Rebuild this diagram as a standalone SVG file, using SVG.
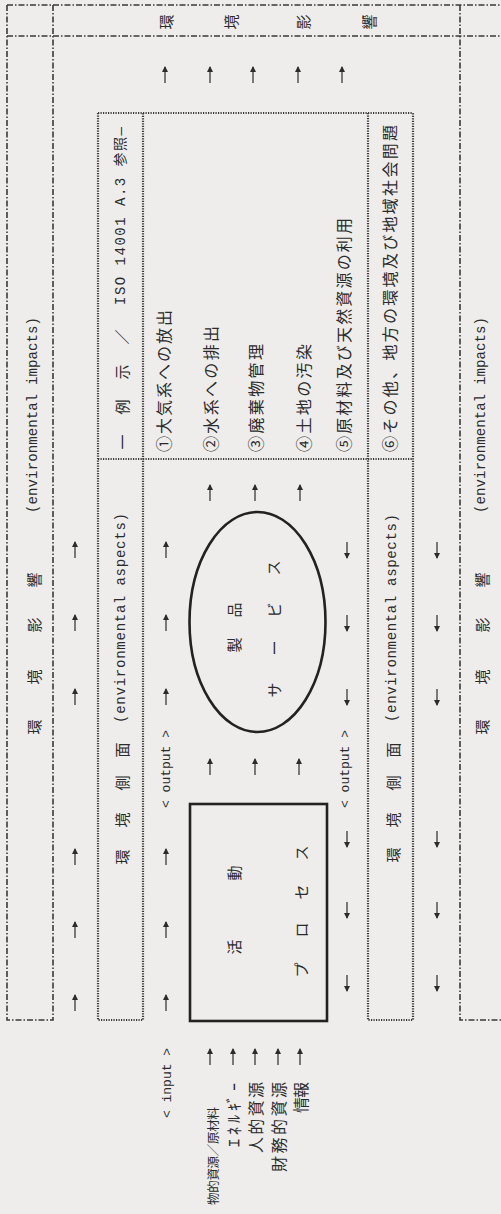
<svg xmlns="http://www.w3.org/2000/svg" width="501" height="1214" viewBox="0 0 501 1214">
<defs>
<marker id="ah" markerWidth="6" markerHeight="6" refX="5" refY="3" orient="auto" markerUnits="userSpaceOnUse">
<path d="M0,0 L6,3 L0,6 z" fill="#2b2b2b"/>
</marker>
<style>
.outer{fill:none;stroke:#3a3a3a;stroke-width:1.6;stroke-dasharray:6 2 1.5 2}
.inner{fill:none;stroke:#3a3a3a;stroke-width:2.2;stroke-dasharray:1.2 1.3}
.solid{fill:none;stroke:#222;stroke-width:2.6}
.arr{stroke:#2b2b2b;stroke-width:1.2;marker-end:url(#ah)}
text{fill:#2b2b2b;dominant-baseline:central;text-anchor:middle}
.j{font-family:"Noto Sans CJK JP",sans-serif;font-size:15px}
.l{font-family:"Noto Sans CJK JP",sans-serif;font-size:16px}
g.l text{text-anchor:start}
.m{font-family:"Liberation Mono","Noto Sans CJK JP",monospace;font-size:14px}
</style>
</defs>
<rect width="501" height="1214" fill="#eeedeb"/>

<g id="outer-frame">
<line class="outer" x1="7" y1="5" x2="501" y2="5"/>
<line class="outer" x1="7" y1="36" x2="501" y2="36"/>
<path class="outer" d="M7,5 V1020 H53 V5"/>
<path class="outer" d="M460,5 V1020 H501"/>
<g class="j">
<text transform="translate(165 22) rotate(-90)">環</text>
<text transform="translate(230 22) rotate(-90)">境</text>
<text transform="translate(302 22) rotate(-90)">影</text>
<text transform="translate(368 22) rotate(-90)">響</text>
<text transform="translate(33 727) rotate(-90)">環</text>
<text transform="translate(33 677) rotate(-90)">境</text>
<text transform="translate(33 625) rotate(-90)">影</text>
<text transform="translate(33 580) rotate(-90)">響</text>
<text transform="translate(481 727) rotate(-90)">環</text>
<text transform="translate(481 677) rotate(-90)">境</text>
<text transform="translate(481 625) rotate(-90)">影</text>
<text transform="translate(481 580) rotate(-90)">響</text>
</g>
<text class="m" transform="translate(33 415) rotate(-90)" textLength="196">(environmental impacts)</text>
<text class="m" transform="translate(481 415) rotate(-90)" textLength="196">(environmental impacts)</text>
</g>

<g id="inner-frame">
<path class="inner" d="M98,113 H413"/>
<path class="inner" d="M98,459 H413"/>
<path class="inner" d="M98,113 V1020 H143 V113"/>
<path class="inner" d="M368,113 V1020 H413 V113"/>
<g class="j">
<text transform="translate(121 857) rotate(-90)">環</text>
<text transform="translate(121 820) rotate(-90)">境</text>
<text transform="translate(121 783) rotate(-90)">側</text>
<text transform="translate(121 750) rotate(-90)">面</text>
<text transform="translate(392 855) rotate(-90)">環</text>
<text transform="translate(392 820) rotate(-90)">境</text>
<text transform="translate(392 783) rotate(-90)">側</text>
<text transform="translate(392 750) rotate(-90)">面</text>
<text transform="translate(121 442) rotate(-90)">一</text>
<text transform="translate(121 407) rotate(-90)">例</text>
<text transform="translate(121 372) rotate(-90)">示</text>
<text transform="translate(121 337) rotate(-90)">／</text>
</g>
<text class="m" transform="translate(121 618) rotate(-90)" textLength="210">(environmental aspects)</text>
<text class="m" transform="translate(392 618) rotate(-90)" textLength="208">(environmental aspects)</text>
<text class="m" transform="translate(121 216) rotate(-90)" textLength="178">ISO 14001 A.3 参照—</text>
</g>

<g id="examples" class="l">
<text transform="translate(163 452) rotate(-90)" textLength="142">①大気系への放出</text>
<text transform="translate(210 452) rotate(-90)" textLength="126">②水系への排出</text>
<text transform="translate(255 452) rotate(-90)" textLength="108">③廃棄物管理</text>
<text transform="translate(303 452) rotate(-90)" textLength="108">④土地の汚染</text>
<text transform="translate(343 452) rotate(-90)" textLength="234">⑤原材料及び天然資源の利用</text>
<text transform="translate(389 452) rotate(-90)" textLength="327">⑥その他、地方の環境及び地域社会問題</text>
</g>

<g id="activity-process">
<rect class="solid" x="190" y="804" width="137" height="217"/>
<g class="j">
<text transform="translate(233 947) rotate(-90)">活</text>
<text transform="translate(233 873) rotate(-90)">動</text>
<text transform="translate(300 970) rotate(-90)">プ</text>
<text transform="translate(300 930) rotate(-90)">ロ</text>
<text transform="translate(300 892) rotate(-90)">セ</text>
<text transform="translate(300 853) rotate(-90)">ス</text>
</g>
</g>

<g id="product-service">
<ellipse class="solid" cx="257.5" cy="622" rx="68" ry="110"/>
<g class="j">
<text transform="translate(233 645) rotate(-90)">製</text>
<text transform="translate(233 610) rotate(-90)">品</text>
<text transform="translate(273 690) rotate(-90)">サ</text>
<text transform="translate(273 648) rotate(-90)">ー</text>
<text transform="translate(273 610) rotate(-90)">ビ</text>
<text transform="translate(272 568) rotate(-90)">ス</text>
</g>
</g>

<g id="io-labels">
<text class="m" style="font-size:13px" transform="translate(166 769) rotate(-90)">&lt; output &gt;</text>
<text class="m" style="font-size:13px" transform="translate(345 769) rotate(-90)">&lt; output &gt;</text>
<text class="m" style="font-size:13px" transform="translate(167 1083) rotate(-90)">&lt; input &gt;</text>
<g class="l">
<text style="font-size:12.5px" transform="translate(212 1205) rotate(-90)" textLength="98">物的資源／原材料</text>
<text transform="translate(233 1147) rotate(-90)" textLength="64">ｴﾈﾙｷﾞｰ</text>
<text transform="translate(255 1153) rotate(-90)" textLength="71">人的資源</text>
<text transform="translate(278 1172) rotate(-90)" textLength="90">財務的資源</text>
<text transform="translate(300 1113) rotate(-90)" textLength="31">情報</text>
</g>
</g>

<g id="connectors">
<line class="arr" x1="165" y1="83" x2="165" y2="67"/>
<line class="arr" x1="210" y1="83" x2="210" y2="67"/>
<line class="arr" x1="253" y1="83" x2="253" y2="67"/>
<line class="arr" x1="298" y1="83" x2="298" y2="67"/>
<line class="arr" x1="342" y1="83" x2="342" y2="67"/>

<line class="arr" x1="75" y1="558" x2="75" y2="542"/>
<line class="arr" x1="75" y1="631" x2="75" y2="615"/>
<line class="arr" x1="75" y1="705" x2="75" y2="689"/>
<line class="arr" x1="75" y1="865" x2="75" y2="849"/>
<line class="arr" x1="75" y1="938" x2="75" y2="922"/>
<line class="arr" x1="75" y1="1011" x2="75" y2="995"/>

<line class="arr" x1="166" y1="558" x2="166" y2="542"/>
<line class="arr" x1="166" y1="631" x2="166" y2="615"/>
<line class="arr" x1="166" y1="705" x2="166" y2="689"/>
<line class="arr" x1="166" y1="865" x2="166" y2="849"/>
<line class="arr" x1="166" y1="938" x2="166" y2="922"/>
<line class="arr" x1="166" y1="1011" x2="166" y2="995"/>

<line class="arr" x1="210" y1="775" x2="210" y2="759"/>
<line class="arr" x1="255" y1="775" x2="255" y2="759"/>
<line class="arr" x1="299" y1="775" x2="299" y2="759"/>

<line class="arr" x1="210" y1="501" x2="210" y2="485"/>
<line class="arr" x1="255" y1="501" x2="255" y2="485"/>
<line class="arr" x1="300" y1="501" x2="300" y2="485"/>

<line class="arr" x1="347" y1="542" x2="347" y2="558"/>
<line class="arr" x1="347" y1="615" x2="347" y2="631"/>
<line class="arr" x1="347" y1="689" x2="347" y2="705"/>
<line class="arr" x1="347" y1="831" x2="347" y2="847"/>
<line class="arr" x1="347" y1="902" x2="347" y2="918"/>
<line class="arr" x1="347" y1="975" x2="347" y2="991"/>

<line class="arr" x1="437" y1="542" x2="437" y2="558"/>
<line class="arr" x1="437" y1="615" x2="437" y2="631"/>
<line class="arr" x1="437" y1="689" x2="437" y2="705"/>
<line class="arr" x1="437" y1="831" x2="437" y2="847"/>
<line class="arr" x1="437" y1="902" x2="437" y2="918"/>
<line class="arr" x1="437" y1="975" x2="437" y2="991"/>

<line class="arr" x1="210" y1="1065" x2="210" y2="1049"/>
<line class="arr" x1="233" y1="1065" x2="233" y2="1049"/>
<line class="arr" x1="255" y1="1065" x2="255" y2="1049"/>
<line class="arr" x1="278" y1="1065" x2="278" y2="1049"/>
<line class="arr" x1="300" y1="1065" x2="300" y2="1049"/>
</g>
</svg>
